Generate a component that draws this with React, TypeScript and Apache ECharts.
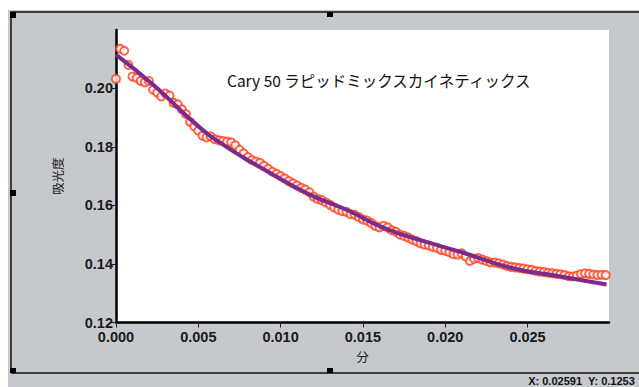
import React, { useEffect, useRef } from "react";
import * as echarts from "echarts";

// Time step of the measured points (minutes)
const timeStep = 0.00025;

// Measured absorbance (red circles), one per time step starting at 0
const measured = [
  0.2032, 0.2135, 0.2128, 0.2080, 0.2040, 0.2035, 0.2025, 0.2020, 0.2025, 0.1995,
  0.1985, 0.1972, 0.1982, 0.1975, 0.1950, 0.1945, 0.1928, 0.1912, 0.1885, 0.1870,
  0.1855, 0.1838, 0.1832, 0.1836, 0.1826, 0.1822, 0.1820, 0.1818, 0.1815, 0.1805,
  0.1790, 0.1778, 0.1765, 0.1755, 0.1750, 0.1745, 0.1735, 0.1725, 0.1715, 0.1708,
  0.1700, 0.1692, 0.1683, 0.1675, 0.1668, 0.1660, 0.1654, 0.1645, 0.1630, 0.1622,
  0.1618, 0.1610, 0.1602, 0.1593, 0.1585, 0.1580, 0.1578, 0.1570, 0.1568, 0.1560,
  0.1552, 0.1548, 0.1540, 0.1530, 0.1525, 0.1530, 0.1525, 0.1515, 0.1510, 0.1500,
  0.1496, 0.1490, 0.1483, 0.1478, 0.1470, 0.1466, 0.1463, 0.1458, 0.1455, 0.1448,
  0.1445, 0.1440, 0.1433, 0.1432, 0.1436, 0.1425, 0.1410, 0.1418, 0.1420, 0.1415,
  0.1410, 0.1405, 0.1405, 0.1402, 0.1398, 0.1393, 0.1390, 0.1388, 0.1386, 0.1384,
  0.1382, 0.1380, 0.1376, 0.1374, 0.1372, 0.1370, 0.1368, 0.1366, 0.1365, 0.1362,
  0.1358, 0.1357, 0.1360, 0.1365, 0.1368, 0.1366, 0.1364, 0.1362, 0.1363, 0.1362,
];

// Fitted curve (purple)
const fitTimes = [0, 0.0024, 0.0049, 0.0067, 0.0094, 0.0118, 0.014, 0.0163, 0.0188, 0.021, 0.0239, 0.027, 0.0298];
const fitValues = [0.2115, 0.2005, 0.1875, 0.18, 0.171, 0.1636, 0.1585, 0.1522, 0.1476, 0.144, 0.1388, 0.1357, 0.133];

// Tick values shown on the axes
const xTicks = [0, 0.005, 0.01, 0.015, 0.02, 0.025];
const yTicks = [0.12, 0.14, 0.16, 0.18, 0.2];

const titleText = "Cary 50 ラピッドミックスカイネティックス";
const xName = "分";
const yName = "吸光度";
const statusText = "X: 0.02591  Y: 0.1253";

export default function App() {
  const ref = useRef<HTMLDivElement>(null);
  useEffect(() => {
    if (!ref.current) return;
    const chart = echarts.init(ref.current, null, { renderer: "svg" });
    const scatterData = measured.map((v, i) => [i * timeStep, v]);
    const lineData = fitTimes.map((t, i) => [t, fitValues[i]]);
    const handle = (x: number, y: number, w: number, h: number) => ({
      type: "rect",
      shape: { x, y, width: w, height: h },
      style: { fill: "#000" },
      z: 10,
    });
    const labelFont = '"Liberation Sans", Arial, sans-serif';
    chart.setOption({
      animation: false,
      backgroundColor: "#fff",
      title: {
        text: titleText,
        left: 222,
        top: 67,
        textStyle: {
          fontSize: 15.5,
          fontWeight: "normal",
          color: "#111",
          fontFamily: '"Liberation Sans Narrow", "Noto Sans CJK JP", sans-serif',
        },
      },
      grid: {
        left: 116,
        top: 30,
        right: 30,
        bottom: 64.5,
        show: true,
        backgroundColor: "#fff",
        borderWidth: 0,
      },
      xAxis: {
        type: "value",
        min: 0,
        max: 0.02995,
        name: xName,
        nameLocation: "middle",
        nameGap: 28,
        nameTextStyle: { fontSize: 12.5, color: "#222", fontFamily: '"Noto Sans CJK JP", sans-serif' },
        axisLine: { show: true, lineStyle: { color: "#000", width: 2.5 } },
        axisTick: { show: true, length: 5, customValues: xTicks, lineStyle: { color: "#222", width: 1 } },
        axisLabel: {
          margin: 7,
          fontSize: 14.5,
          fontWeight: "bold",
          color: "#1a1a1a",
          fontFamily: labelFont,
          customValues: xTicks,
          formatter: (v: number) => v.toFixed(3),
        },
        splitLine: { show: false },
      },
      yAxis: {
        type: "value",
        min: 0.12,
        max: 0.2199,
        name: yName,
        nameLocation: "middle",
        nameGap: 52,
        nameTextStyle: { fontSize: 12.5, color: "#222", fontFamily: '"Noto Sans CJK JP", sans-serif' },
        axisLine: { show: true, lineStyle: { color: "#000", width: 2.5 } },
        axisTick: { show: true, length: 5, customValues: yTicks, lineStyle: { color: "#222", width: 1 } },
        axisLabel: {
          margin: 3,
          fontSize: 14.5,
          fontWeight: "bold",
          color: "#1a1a1a",
          fontFamily: labelFont,
          customValues: yTicks,
          formatter: (v: number) => v.toFixed(2),
        },
        splitLine: { show: false },
      },
      graphic: [
        {
          type: "rect",
          shape: { x: 8, y: 10, width: 631, height: 377 },
          style: { fill: "#c5c9cd" },
          z: -10,
          silent: true,
        },
        {
          type: "polyline",
          shape: { points: [[11, 373], [11, 12], [639, 12]] },
          style: { stroke: "#111", lineWidth: 1.5, fill: null },
          z: 5,
        },
        {
          type: "line",
          shape: { x1: 11, y1: 373, x2: 639, y2: 373 },
          style: { stroke: "#111", lineWidth: 1.5 },
          z: 5,
        },
        handle(10, 12, 6, 6),
        handle(327, 12, 6, 5),
        handle(10, 190, 6, 6),
        handle(10, 368, 6, 5),
        handle(327, 368, 6, 5),
        {
          type: "text",
          right: 4,
          top: 375,
          style: {
            text: statusText,
            fontSize: 11,
            fontWeight: "bold",
            fill: "#111",
            fontFamily: labelFont,
          },
          z: 10,
        },
      ],
      series: [
        {
          type: "scatter",
          data: scatterData,
          symbol: "emptyCircle",
          symbolSize: 8,
          itemStyle: { color: "#ff3e1c", borderWidth: 0.9 },
          z: 2,
        },
        {
          type: "line",
          data: lineData,
          smooth: true,
          showSymbol: false,
          lineStyle: { color: "#7b2a8e", width: 4 },
          z: 3,
        },
      ],
    });
    return () => chart.dispose();
  }, []);
  return (
    <div
      ref={ref}
      style={{ position: "fixed", left: 0, top: 0, width: 639, height: 387 }}
    />
  );
}
